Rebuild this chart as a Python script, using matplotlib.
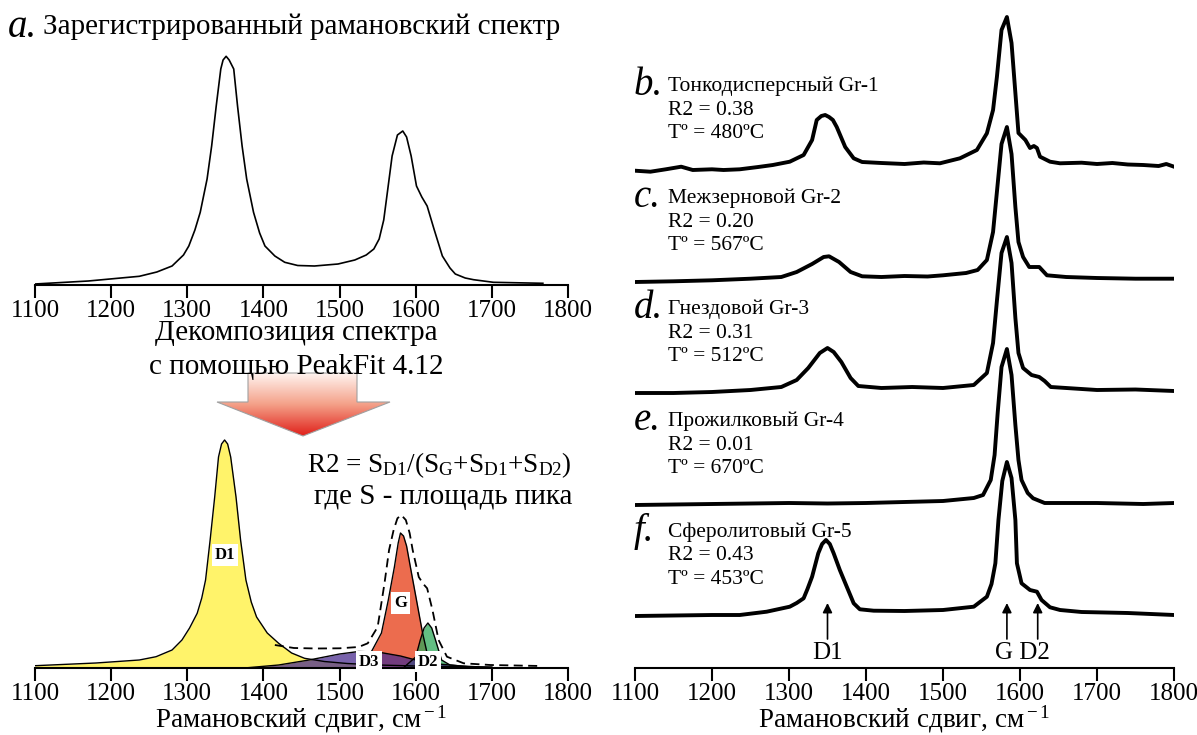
import numpy as np
import matplotlib
matplotlib.use("Agg")
import matplotlib.pyplot as plt
from matplotlib.patches import Polygon
from matplotlib.colors import LinearSegmentedColormap

plt.rcParams['font.family'] = ['Liberation Serif', 'DejaVu Serif']
plt.rcParams['mathtext.fontset'] = 'custom'
plt.rcParams['mathtext.rm'] = 'Liberation Serif'
plt.rcParams['mathtext.it'] = 'Liberation Serif:italic'

# --- panel a: recorded spectrum (Raman shift, intensity a.u.)
raw_x = [1100, 1170, 1237, 1260, 1280, 1295, 1302, 1310, 1317, 1326, 1332, 1338, 1344, 1347,
         1351, 1355, 1361, 1366, 1372, 1378, 1387, 1395, 1402, 1415, 1428, 1445, 1467, 1498,
         1520, 1535, 1545, 1552, 1558, 1563, 1569, 1576, 1583, 1588, 1594, 1601, 1608, 1615,
         1624, 1635, 1645, 1652, 1665, 1676, 1702, 1767]
raw_y = [1, 4, 8.7, 13, 19, 30, 39, 55, 72.7, 106, 139, 179, 216, 225,
         228.7, 225, 216, 179, 139, 106, 72.7, 52, 39, 29, 22.7, 19.5, 19, 21,
         25, 30, 36, 46, 65, 94, 129, 150, 154, 148, 129, 99, 88, 79,
         56, 29, 17, 11, 7, 5.3, 2.7, 1.7]

# --- decomposition (PeakFit components)
d1_x = [1100, 1180, 1237, 1259, 1280, 1293, 1303, 1313, 1319, 1324, 1330, 1336, 1341, 1345,
        1349, 1353, 1357, 1364, 1370, 1377, 1384, 1391, 1405, 1420, 1437, 1454, 1480, 1510,
        1550, 1600, 1650, 1700]
d1_y = [2.3, 5, 8, 11.3, 18, 28, 40, 54.7, 70, 88, 128, 171, 211, 224,
        228, 224, 211, 171, 128, 88, 66, 51, 35, 24.7, 15, 9.7, 6.5, 4.5,
        3, 2, 1.3, 1]
g_x = [1530, 1543, 1555, 1564, 1572, 1577, 1580, 1584, 1588, 1593, 1601, 1609, 1617, 1630]
g_y = [0, 18, 35, 68, 101, 125, 135, 132, 122, 101, 68, 35, 8, 1]
d2_x = [1585, 1600, 1606, 1611, 1616, 1621, 1626, 1634, 1645, 1680]
d2_y = [1, 11, 28, 40, 45, 40, 28, 8, 3, 0.5]
d3_x = [1375, 1420, 1460, 1500, 1525, 1550, 1580, 1600, 1630, 1660, 1700]
d3_y = [0, 3, 8, 14, 16.5, 16, 12, 8, 4, 2, 0.5]
sum_x = [1415, 1440, 1470, 1500, 1525, 1537, 1550, 1559, 1565, 1571, 1576, 1581, 1587, 1592,
         1596, 1604, 1610, 1615, 1622, 1630, 1641, 1663, 1698, 1765]
sum_y = [23, 20, 19.5, 19.7, 21, 24.7, 41, 84.7, 118, 138, 149.7, 153, 148, 135,
         118, 91, 84, 79.7, 58, 28, 11.3, 4.7, 3, 2]
comp_names = ['D1', 'G', 'D2', 'D3']
comp_colors = ['#FFF36A', '#EC6C4E', '#2FA85A', '#4B2D8F']

# --- panels b-f: spectra of graphite types
b_x = [1100, 1120, 1140, 1160, 1175, 1200, 1215, 1236, 1260, 1279, 1301, 1319, 1330, 1336,
       1342, 1347, 1352, 1357, 1362, 1373, 1384, 1395, 1420, 1450, 1475, 1496, 1522, 1544,
       1557, 1565, 1570, 1576, 1583, 1589, 1594, 1598, 1607, 1613, 1618, 1622, 1626, 1639,
       1652, 1680, 1700, 1720, 1740, 1760, 1780, 1790, 1800]
b_y = [-0.7, -1.7, 0.7, 3.3, 0, 0.7, 0, 0.7, 3, 5, 8.3, 15, 30, 50,
       54, 55, 53, 50, 43, 23, 11.7, 8, 7, 6, 7.5, 6.7, 11.7, 20,
       36.7, 60, 93, 140, 153, 127, 77, 37, 30, 22, 24, 22, 13.3, 8.3,
       6.7, 7.3, 6, 7, 5.5, 5, 4, 6, 3.3]
c_x = [1100, 1150, 1200, 1250, 1290, 1310, 1330, 1345, 1352, 1365, 1380, 1395, 1420, 1450,
       1480, 1500, 1530, 1545, 1557, 1565, 1570, 1576, 1583, 1589, 1594, 1598, 1604, 1612,
       1625, 1635, 1660, 1700, 1750, 1800]
c_y = [0, 0.7, 1.7, 3.3, 5, 10, 18, 25, 25.7, 20, 10, 5.7, 5, 6,
       5.5, 6.7, 9, 12, 22, 50, 90, 138, 155, 128, 75, 40, 25, 15,
       15, 6.7, 5, 4, 3.3, 3.3]
d_x = [1100, 1150, 1200, 1250, 1290, 1310, 1325, 1340, 1350, 1358, 1368, 1380, 1390, 1420,
       1460, 1500, 1540, 1557, 1565, 1570, 1576, 1583, 1589, 1594, 1598, 1604, 1615, 1625,
       1632, 1640, 1700, 1750, 1800]
d_y = [0, 0, 1, 3, 6, 13, 25, 40, 45, 41, 31, 15, 7, 5,
       6, 5, 8, 20, 50, 92, 140, 156, 130, 75, 40, 25, 18, 16,
       12, 6, 3, 3.5, 2]
e_x = [1100, 1150, 1200, 1250, 1300, 1350, 1400, 1450, 1500, 1540, 1552, 1562, 1567, 1571,
       1576, 1583, 1589, 1594, 1598, 1602, 1610, 1617, 1632, 1700, 1760, 1800]
e_y = [0, 0.5, 1, 1.5, 2, 1.5, 2, 3, 4, 7, 10, 25, 50, 92,
       138, 156, 130, 80, 45, 25, 12, 6.7, 2, 2, 1, 2]
f_x = [1100, 1200, 1236, 1271, 1301, 1310, 1319, 1324, 1330, 1338, 1343, 1348, 1353, 1358,
       1366, 1375, 1384, 1392, 1410, 1450, 1500, 1540, 1557, 1563, 1568, 1572, 1577, 1583,
       1589, 1594, 1596, 1602, 1613, 1622, 1628, 1639, 1652, 1680, 1740, 1800]
f_y = [0, 1, 1, 4.3, 9.3, 13, 17.7, 27, 39.3, 62.7, 72, 76, 72, 62.7,
       46, 29.3, 12.7, 6.7, 5.3, 5, 6, 9.3, 19.3, 32, 52.7, 96, 135, 154,
       138, 96, 52.7, 32.7, 26, 24.3, 16, 8.7, 6, 4, 3, 1]
spec_letters = ['b.', 'c.', 'd.', 'e.', 'f.']
spec_names = ['Тонкодисперсный Gr-1', 'Межзерновой Gr-2', 'Гнездовой Gr-3',
              'Прожилковый Gr-4', 'Сферолитовый Gr-5']
spec_r2 = ['0.38', '0.20', '0.31', '0.01', '0.43']
spec_temp = ['480', '567', '512', '670', '453']
band_names = ['D1', 'G', 'D2']
band_pos = [1350, 1583, 1623]

xlabel = 'Рамановский сдвиг, см$^{\\rm -1}$'


def style_axis(ax):
    for s in ['left', 'right', 'top']:
        ax.spines[s].set_visible(False)
    ax.spines['bottom'].set_linewidth(1.5)
    ax.set_yticks([])
    ax.set_xlim(1100, 1800)
    ax.set_xticks(range(1100, 1801, 100))
    ax.tick_params(axis='x', direction='out', length=9, width=1.5, labelsize=18, pad=2)
    ax.patch.set_alpha(0)


fig = plt.figure(figsize=(11.97, 7.35), dpi=100)

# panel a
ax_a = fig.add_axes([35 / 1197, 450 / 735, 533 / 1197, 240 / 735])
style_axis(ax_a)
ax_a.set_ylim(0, 240)
ax_a.plot(raw_x, raw_y, color='black', lw=1.2)

# decomposition panel
ax_d = fig.add_axes([35 / 1197, 67 / 735, 533 / 1197, 238 / 735])
style_axis(ax_d)
ax_d.set_ylim(0, 238)
ax_d.set_xlabel(xlabel, fontsize=19.5, labelpad=-1)
comps = [(d1_x, d1_y), (g_x, g_y), (d2_x, d2_y), (d3_x, d3_y)]
alphas = [1.0, 1.0, 0.75, 0.75]
for (cx, cy), col, al in zip(comps, comp_colors, alphas):
    ax_d.fill_between(cx, 0, cy, color=col, alpha=al, lw=0)
    ax_d.plot(cx, cy, color='black', lw=1.0)
ax_d.plot(sum_x, sum_y, color='black', lw=1.3, ls=(0, (5, 3)))
label_pos = [(1350, 113), (1580, 65), (1616, 6.5), (1539, 6.5)]
for name, (lx, ly) in zip(comp_names, label_pos):
    ax_d.text(lx, ly, name, ha='center', va='center', fontsize=12, fontweight='bold',
              bbox=dict(facecolor='white', edgecolor='none', pad=2))

# panels b-f
ax_r = fig.add_axes([635 / 1197, 67 / 735, 539 / 1197, 658 / 735])
style_axis(ax_r)
ax_r.set_ylim(0, 658)
ax_r.set_xlabel(xlabel, fontsize=19.5, labelpad=-1)
offsets = [498, 386, 275, 163, 52]
specs = [(b_x, b_y), (c_x, c_y), (d_x, d_y), (e_x, e_y), (f_x, f_y)]
for (sx, sy), off in zip(specs, offsets):
    ax_r.plot(sx, np.array(sy) + off, color='black', lw=2.8, solid_joinstyle='round')
for name, pos in zip(band_names, band_pos):
    ax_r.annotate('', xy=(pos, 65), xytext=(pos, 29),
                  arrowprops=dict(arrowstyle='-|>', color='black', lw=1.2,
                                  mutation_scale=14, shrinkA=0, shrinkB=0))
ax_r.text(1350, 15, 'D1', ha='center', va='center', fontsize=18)
ax_r.text(1603, 15, 'G D2', ha='center', va='center', fontsize=18)

# overlay in pixel coordinates for free text and the arrow
ov = fig.add_axes([0, 0, 1, 1])
ov.axis('off')

arrow_pts = [(248, 373), (357, 373), (357, 402), (390, 402), (303, 436), (217, 402), (248, 402)]
arrow = Polygon(arrow_pts, closed=True, facecolor='none', edgecolor='#a0a0a0', lw=0.8, zorder=3)
ov.add_patch(arrow)
grad = np.linspace(0, 1, 256).reshape(-1, 1)
cmap = LinearSegmentedColormap.from_list('arr', ['#FFF4F0', '#F4A088', '#E0201A'])
im = ov.imshow(grad, cmap=cmap, extent=(217, 390, 436, 373), aspect='auto', zorder=2)
im.set_clip_path(arrow)
ov.set_xlim(0, 1197)
ov.set_ylim(735, 0)

ov.text(8, 27, 'a.', fontsize=28, style='italic', va='center', ha='left')
ov.text(43, 27, 'Зарегистрированный рамановский спектр', fontsize=21, va='center', ha='left')
ov.text(296, 333, 'Декомпозиция спектра', fontsize=21, va='center', ha='center')
ov.text(296, 367, 'с помощью PeakFit 4.12', fontsize=21, va='center', ha='center')
ov.text(572, 465, 'R2 = S$_{\\rm D1}$/(S$_{\\rm G}$+S$_{\\rm D1}$+S$_{\\rm D2}$)',
        fontsize=19.5, va='center', ha='right')
ov.text(572, 497, 'где S - площадь пика', fontsize=21, va='center', ha='right')

label_y = [85, 197, 308, 420, 531]
for letter, name, r2, t, y in zip(spec_letters, spec_names, spec_r2, spec_temp, label_y):
    ov.text(634, y, letter, fontsize=28, style='italic', va='center', ha='left')
    ov.text(668, y + 1, name, fontsize=15.5, va='center', ha='left')
    ov.text(668, y + 25, 'R2 = ' + r2, fontsize=15.5, va='center', ha='left')
    ov.text(668, y + 48, 'Tº = ' + t + 'ºC', fontsize=15.5, va='center', ha='left')

fig.savefig('out.png', dpi=100)
